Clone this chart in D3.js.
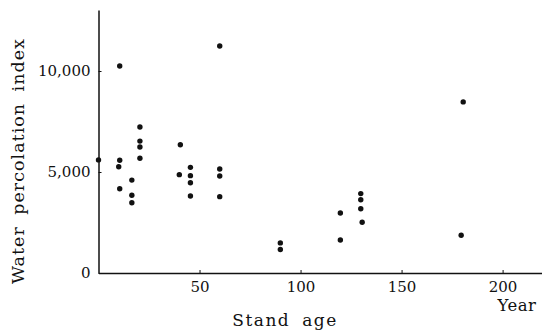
<!DOCTYPE html>
<html>
<head>
<meta charset="utf-8">
<script src="https://cdn.jsdelivr.net/npm/d3@7"></script>
<style>
  body { margin: 0; background: #fff; }
  svg text { font-family: "DejaVu Serif", serif; fill: #111; }
</style>
</head>
<body>
<div id="chart"></div>
<script>
// stand age (years) and water percolation index
const standAge = [0, 10.5, 10.5, 10, 10.5, 16.5, 16.5, 16.5, 20.5, 20.5, 20.5, 20.5,
    40.5, 40, 45.5, 45.5, 45.5, 45.5, 60, 60, 60, 60, 90, 90,
    119.7, 119.7, 129.8, 129.8, 129.8, 130.5, 180.5, 179.5];
const percolation = [5600, 10250, 5580, 5260, 4170, 4600, 3850, 3480, 7230, 6530, 6240, 5680,
    6350, 4870, 5230, 4820, 4470, 3810, 11240, 5150, 4800, 3780, 1490, 1160,
    2970, 1630, 3930, 3630, 3180, 2510, 8470, 1870];
const xTicks = [50, 100, 150, 200];
const yTicks = [0, 5000, 10000];

const width = 542;
const height = 330;

const svg = d3.select('#chart')
    .append('svg')
    .attr('width', width)
    .attr('height', height);

const x = d3.scaleLinear().domain([0, 219.5]).range([98.5, 542]);
const y = d3.scaleLinear().domain([0, 13020]).range([273, 10]);

// axes, ticks point inward
const xAxis = svg.append('g')
    .attr('transform', `translate(0,${y(0)})`)
    .call(d3.axisBottom(x).tickValues(xTicks).tickSizeInner(-3).tickSizeOuter(0).tickPadding(8));

const yAxis = svg.append('g')
    .attr('transform', `translate(${x(0)},0)`)
    .call(d3.axisLeft(y).tickValues(yTicks).tickFormat(d3.format(',')).tickSizeInner(-3).tickSizeOuter(0).tickPadding(8));

[xAxis, yAxis].forEach(g => {
    g.attr('font-family', '"DejaVu Serif", serif').attr('font-size', 15);
    g.select('.domain').attr('stroke', '#111').attr('stroke-width', 1.5);
    g.selectAll('.tick line').attr('stroke', '#111');
    g.selectAll('.tick text').attr('fill', '#111');
});

// points
svg.selectAll('circle')
    .data(standAge)
    .enter()
    .append('circle')
    .attr('cx', (d) => x(d))
    .attr('cy', (d, i) => y(percolation[i]))
    .attr('r', 2.7)
    .attr('fill', '#111');

// titles
svg.append('text')
    .attr('transform', 'translate(24,161) rotate(-90)')
    .attr('text-anchor', 'middle')
    .style('font-size', '17.5px')
    .style('letter-spacing', '1px')
    .style('word-spacing', '5px')
    .text('Water percolation index');

svg.append('text')
    .attr('x', 285)
    .attr('y', 326)
    .attr('text-anchor', 'middle')
    .style('font-size', '17px')
    .style('letter-spacing', '1.5px')
    .style('word-spacing', '5px')
    .text('Stand age');

svg.append('text')
    .attr('x', 517)
    .attr('y', 311)
    .attr('text-anchor', 'middle')
    .style('font-size', '16.5px')
    .style('letter-spacing', '0.5px')
    .text('Year');
</script>
</body>
</html>
